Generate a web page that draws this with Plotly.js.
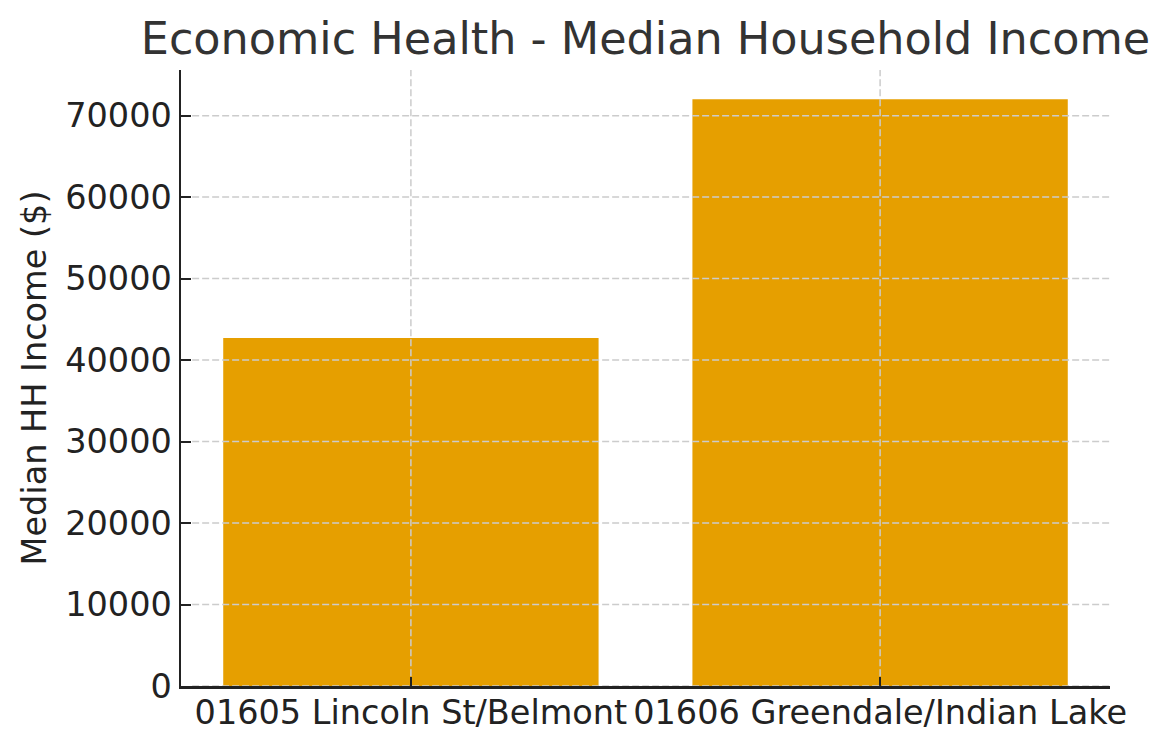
<!DOCTYPE html>
<html>
<head>
<meta charset="utf-8">
<script src="https://cdn.plot.ly/plotly-3.0.1.min.js"></script>
<style>html,body{margin:0;padding:0;background:#fff;}#chart{width:1169px;height:749px;}</style>
</head>
<body>
<div id="chart"></div>
<script>
const categories = ["01605 Lincoln St/Belmont", "01606 Greendale/Indian Lake"];
const medianIncome = [42700, 72000];
const yTicks = [0, 10000, 20000, 30000, 40000, 50000, 60000, 70000];
const titleText = "Economic Health - Median Household Income";
const yTitle = "Median HH Income ($)";

const gridStyle = {color: "#cccccc", width: 1.5, dash: "7px,3px"};
const shapes = [];
yTicks.forEach(v => {
  shapes.push({type: "line", layer: "above", xref: "paper", yref: "y", x0: 0.012, x1: 1, y0: v, y1: v, line: gridStyle});
});
categories.forEach(c => {
  shapes.push({type: "line", layer: "above", xref: "x", yref: "paper", x0: c, x1: c, y0: 0.016, y1: 1, line: gridStyle});
});

const data = [{
  type: "bar",
  x: categories,
  y: medianIncome,
  width: 0.8,
  marker: {color: "#E69F00", line: {width: 0}},
  hoverinfo: "x+y"
}];

const layout = {
  width: 1169,
  height: 749,
  paper_bgcolor: "#ffffff",
  plot_bgcolor: "#ffffff",
  font: {family: "DejaVu Sans", color: "#222222", size: 33.5},
  margin: {l: 181, r: 59, t: 70, b: 63, pad: 0},
  showlegend: false,
  title: {
    text: titleText,
    font: {family: "DejaVu Sans", size: 44.5, color: "#333333"},
    xref: "paper", x: 0.5, xanchor: "center",
    yref: "paper", y: 1, yanchor: "bottom",
    pad: {b: 16}
  },
  xaxis: {
    type: "category",
    range: [-0.49, 1.49],
    showgrid: false,
    zeroline: false,
    showline: true, linecolor: "#222222", linewidth: 2.5,
    ticks: "inside", ticklen: 9, tickwidth: 2, tickcolor: "#222222",
    ticklabelstandoff: -5,
    tickfont: {family: "DejaVu Sans", size: 33.5, color: "#222222"},
    layer: "above traces",
    mirror: false
  },
  yaxis: {
    range: [0, 75600],
    tickvals: yTicks,
    ticktext: yTicks.map(String),
    showgrid: false,
    zeroline: false,
    showline: true, linecolor: "#222222", linewidth: 2.5,
    ticks: "inside", ticklen: 10, tickwidth: 2, tickcolor: "#222222",
    tickfont: {family: "DejaVu Sans", size: 33.5, color: "#222222"},
    title: {text: yTitle, font: {family: "DejaVu Sans", size: 33.5, color: "#222222"}, standoff: 9},
    layer: "above traces"
  },
  shapes: shapes
};

Plotly.newPlot("chart", data, layout, {displayModeBar: false, staticPlot: true});
</script>
</body>
</html>
